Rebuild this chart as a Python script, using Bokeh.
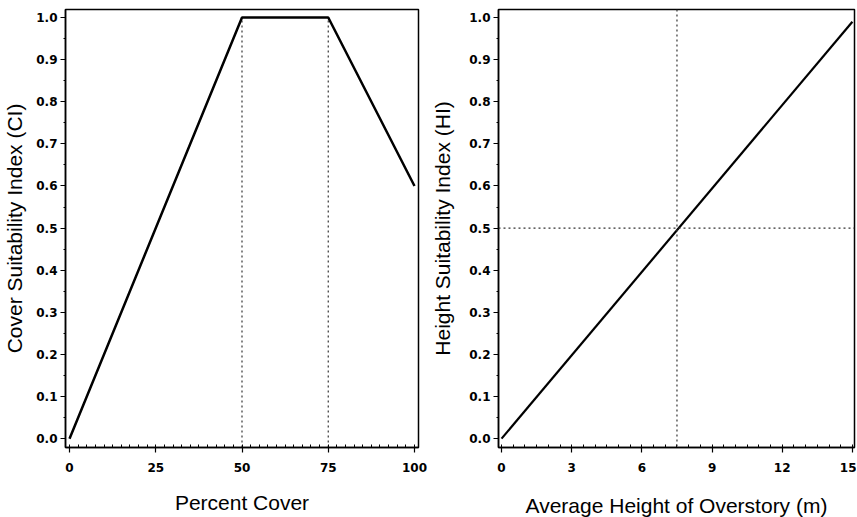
from bokeh.plotting import figure
from bokeh.layouts import row
from bokeh.models import SingleIntervalTicker, Range1d, Span, CustomJSTickFormatter
from bokeh.embed import file_html
from bokeh.resources import INLINE

# ---- data ----
cover_pct = [0, 50, 75, 100]
cover_si = [0.0, 1.0, 1.0, 0.6]
cover_ref_x = [50, 75]
cover_ref_top = [1.0, 1.0]

height_m = [0, 15]
height_si = [0.0, 0.99]
height_ref_x = 7.5
height_ref_y = 0.5

cover_xlabel = "Percent Cover"
cover_ylabel = "Cover Suitability Index (CI)"
height_xlabel = "Average Height of Overstory (m)"
height_ylabel = "Height Suitability Index (HI)"

Y0, Y1 = -0.021, 1.019
TICK_FONT = "DejaVu Sans"
LABEL_FONT = "Liberation Sans"


def style(p, xinterval, xminor):
    p.background_fill_color = "white"
    p.border_fill_color = "white"
    p.outline_line_color = "black"
    p.outline_line_width = 1.5
    p.xgrid.visible = False
    p.ygrid.visible = False
    xa = p.xaxis[0]
    ya = p.yaxis[0]
    xa.ticker = SingleIntervalTicker(interval=xinterval, num_minor_ticks=xminor)
    ya.ticker = SingleIntervalTicker(interval=0.1, num_minor_ticks=2)
    ya.formatter = CustomJSTickFormatter(code="return tick.toFixed(1);")
    xa.formatter = CustomJSTickFormatter(code="return tick.toFixed(0);")
    for ax in (xa, ya):
        ax.axis_line_color = "black"
        ax.axis_line_width = 1.5
        ax.major_tick_line_color = "black"
        ax.minor_tick_line_color = "black"
        ax.major_tick_line_width = 1.2
        ax.minor_tick_line_width = 1
        ax.major_label_text_font = TICK_FONT
        ax.major_label_text_font_style = "bold"
        ax.major_label_text_font_size = "12px"
        ax.major_label_text_color = "black"
        ax.axis_label_text_font = LABEL_FONT
        ax.axis_label_text_font_style = "normal"
        ax.axis_label_text_font_size = "21px"
        ax.axis_label_text_color = "black"
    xa.major_tick_in = 0
    xa.major_tick_out = 5
    xa.minor_tick_in = 3
    xa.minor_tick_out = 0
    xa.major_label_standoff = 10
    ya.major_tick_in = 0
    ya.major_tick_out = 5
    ya.minor_tick_in = 0
    ya.minor_tick_out = 2
    ya.major_label_standoff = 3


# ---- left panel ----
p1 = figure(frame_width=353, frame_height=438, output_backend="svg", toolbar_location=None,
            x_range=Range1d(-1.16, 101.16), y_range=Range1d(Y0, Y1),
            min_border_left=56, min_border_right=10, min_border_top=9,
            min_border_bottom=66)
style(p1, 25, 10)
p1.yaxis[0].axis_label_standoff = 7
p1.xaxis[0].axis_label_standoff = 16
p1.xaxis[0].axis_label = cover_xlabel
p1.yaxis[0].axis_label = cover_ylabel
p1.segment(x0=cover_ref_x, y0=[Y0] * len(cover_ref_x), x1=cover_ref_x, y1=cover_ref_top,
           line_color="#333333", line_width=1.2, line_dash="2 3")
p1.line(cover_pct, cover_si, line_color="black", line_width=2.5)

# ---- right panel ----
p2 = figure(frame_width=356, frame_height=438, output_backend="svg", toolbar_location=None,
            x_range=Range1d(-0.13, 15.09), y_range=Range1d(Y0, Y1),
            min_border_left=70, min_border_right=2, min_border_top=9,
            min_border_bottom=66)
style(p2, 3, 6)
p2.yaxis[0].axis_label_standoff = 12
p2.xaxis[0].axis_label_standoff = 19
p2.xaxis[0].axis_label = height_xlabel
p2.yaxis[0].axis_label = height_ylabel
p2.add_layout(Span(location=height_ref_x, dimension="height", line_color="#333333",
                   line_width=1.2, line_dash="2 3"))
p2.add_layout(Span(location=height_ref_y, dimension="width", line_color="#333333",
                   line_width=1.2, line_dash="2 3"))
p2.line(height_m, height_si, line_color="black", line_width=2.2)

layout = row(p1, p2)
open("out.html", "w").write(file_html(layout, INLINE))
